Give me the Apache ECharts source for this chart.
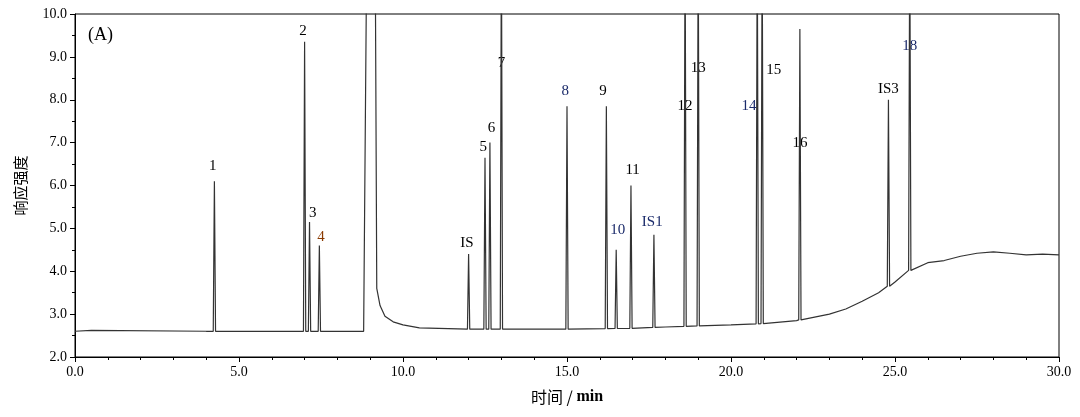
<!DOCTYPE html><html><head><meta charset="utf-8">
<script src="https://cdn.jsdelivr.net/npm/echarts@6/dist/echarts.min.js"></script>
<style>html,body{margin:0;background:#fff}#c{width:1080px;height:417px}</style></head><body><div id="c"></div>
<script>
// baseline [time, response]
const baseline=[[0,2.6],[0.5,2.62],[4,2.6],[8.8,2.6],[10,2.75],[10.5,2.68],[12,2.65],[15,2.65],[17,2.67],[18,2.7],[20,2.75],[21,2.78],[22,2.85],[23,3.0],[23.5,3.12],[24,3.3],[24.5,3.5],[25,3.75],[25.5,4.05],[26,4.2],[26.5,4.25],[27,4.35],[27.5,4.42],[28,4.45],[28.5,4.42],[29,4.38],[29.5,4.4],[30,4.38]];
// solvent peak
const solvent=[[8.85,2.6],[8.9,12],[9.15,12],[9.2,3.6],[9.3,3.2],[9.45,2.95],[9.7,2.82],[10,2.75]];
// peaks [retention time, height]
const peaks=[[4.25,6.1],[7.0,9.35],[7.15,5.15],[7.45,4.6],[12.0,4.4],[12.5,6.65],[12.65,7.0],[13.0,12],[15.0,7.85],[16.2,7.85],[16.5,4.5],[16.95,6.0],[17.65,4.85],[18.6,12],[19.0,12],[20.8,12],[20.95,12],[22.1,9.65],[24.8,8.0],[25.45,12]];
// labels [x, y, text, color]
const labels=[[4.2,6.45,'1','#000'],[6.95,9.6,'2','#000'],[7.25,5.35,'3','#000'],[7.5,4.8,'4','#8a3a00'],[11.95,4.65,'IS','#000'],[12.45,6.9,'5','#000'],[12.7,7.35,'6','#000'],[13.0,8.85,'7','#000'],[14.95,8.2,'8','#1a2a6a'],[16.1,8.2,'9','#000'],[16.55,4.95,'10','#1a2a6a'],[17.0,6.35,'11','#000'],[17.6,5.15,'IS1','#1a2a6a'],[18.6,7.85,'12','#000'],[19.0,8.75,'13','#000'],[20.55,7.85,'14','#1a2a6a'],[21.3,8.7,'15','#000'],[22.1,7.0,'16','#000'],[24.8,8.25,'IS3','#000'],[25.45,9.25,'18','#1a2a6a']];
const pts=baseline.concat(solvent);
function baseAt(x){let b=baseline;for(let i=0;i<b.length-1;i++){if(x>=b[i][0]&&x<=b[i+1][0]){return b[i][1]+(b[i+1][1]-b[i][1])*(x-b[i][0])/(b[i+1][0]-b[i][0]);}}return b[b.length-1][1];}
peaks.forEach(p=>{const w=0.035;pts.push([p[0]-w,baseAt(p[0])],[p[0],p[1]],[p[0]+w,baseAt(p[0])]);});
pts.sort((a,b)=>a[0]-b[0]);
const font='"Liberation Serif","DejaVu Serif",serif';
const ch=echarts.init(document.getElementById('c'));
ch.setOption({animation:false,
grid:{left:75,right:21,top:14,bottom:60},
xAxis:{type:'value',min:0,max:30,interval:5,name:'{a|时间 / }{b|min}',nameLocation:'middle',nameGap:32,
 nameTextStyle:{rich:{a:{fontSize:16,fontFamily:'"Noto Sans CJK SC"',color:'#000'},b:{fontSize:16,fontWeight:'bold',fontFamily:font,color:'#000'}}},
 axisLine:{lineStyle:{color:'#000'}},axisTick:{show:true,length:5,lineStyle:{color:'#000'}},minorTick:{show:true,splitNumber:5,length:3,lineStyle:{color:'#000'}},
 axisLabel:{formatter:v=>v.toFixed(1),color:'#000',fontFamily:font,fontSize:14},splitLine:{show:false}},
yAxis:{type:'value',min:2,max:10,interval:1,name:'响应强度',nameLocation:'middle',nameGap:47,nameRotate:90,
 nameTextStyle:{fontSize:15,fontFamily:'"Noto Sans CJK SC"',color:'#000'},
 axisLine:{show:true,lineStyle:{color:'#000'}},axisTick:{show:true,length:5,lineStyle:{color:'#000'}},minorTick:{show:true,splitNumber:2,length:3,lineStyle:{color:'#000'}},
 axisLabel:{formatter:v=>v.toFixed(1),color:'#000',fontFamily:font,fontSize:14},splitLine:{show:false}},
graphic:[{type:'rect',shape:{x:75,y:14,width:984,height:343},style:{fill:'none',stroke:'#000',lineWidth:1}},
 {type:'text',left:88,top:26,style:{text:'(A)',font:'18px "Liberation Serif"',fill:'#000'}}],
series:[{type:'line',data:pts,showSymbol:false,lineStyle:{color:'#333',width:1.2},clip:true},
 {type:'scatter',data:labels.map(l=>({value:[l[0],l[1]],label:{formatter:l[2],color:l[3]}})),symbolSize:1,itemStyle:{opacity:0},
  label:{show:true,opacity:1,position:'inside',fontFamily:font,fontSize:15,backgroundColor:'#fff',padding:[1,1]}}]});
</script></body></html>
